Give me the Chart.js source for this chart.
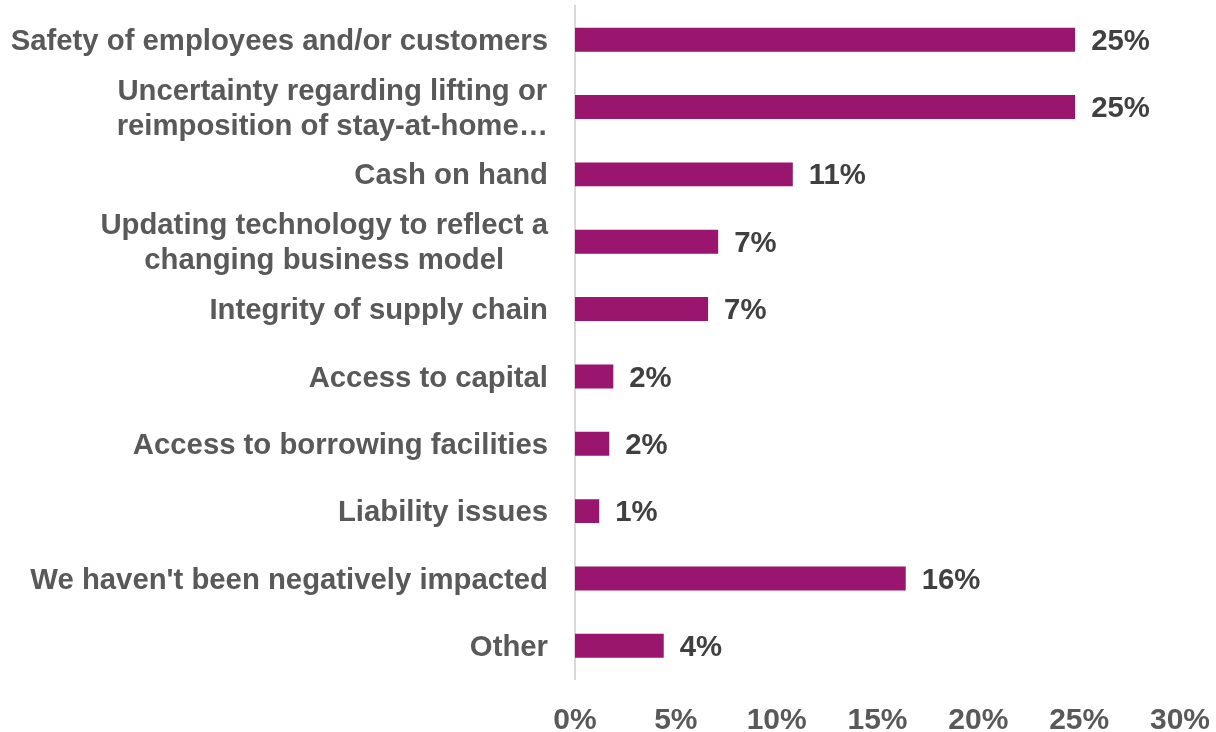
<!DOCTYPE html>
<html>
<head>
<meta charset="utf-8">
<script src="https://cdn.jsdelivr.net/npm/chart.js@4.4.1/dist/chart.umd.min.js"></script>
<style>
  html, body { margin: 0; padding: 0; background: #ffffff; }
  #wrap { width: 1216px; height: 732px; }
</style>
</head>
<body>
<div id="wrap"><canvas id="chart" width="1216" height="732"></canvas></div>
<script>
// Survey responses: biggest concerns about reopening
const categories = [
  ['Safety of employees and/or customers'],
  ['Uncertainty regarding lifting or', 'reimposition of stay-at-home\u2026'],
  ['Cash on hand'],
  ['Updating technology to reflect a', 'changing business model'],
  ['Integrity of supply chain'],
  ['Access to capital'],
  ['Access to borrowing facilities'],
  ['Liability issues'],
  ["We haven't been negatively impacted"],
  ['Other']
];
const shares = [24.8, 24.8, 10.8, 7.1, 6.6, 1.9, 1.7, 1.2, 16.4, 4.4];
const axisTicks = [0, 5, 10, 15, 20, 25, 30];

const BAR = '#99156E';
const LABEL_GREY = '#595959';
const VALUE_GREY = '#404040';
const FONT = '"Liberation Sans", Arial, sans-serif';

// Category labels: block right-aligned to the axis, lines centred within the block
const categoryLabels = {
  id: 'categoryLabels',
  afterDraw(chart) {
    const { ctx, scales: { y } } = chart;
    ctx.save();
    ctx.font = 'bold 29.3px ' + FONT;
    ctx.fillStyle = LABEL_GREY;
    ctx.textBaseline = 'middle';
    ctx.textAlign = 'center';
    const right = y.right - 27;
    const lh = 35;
    categories.forEach((lines, i) => {
      const cy = y.getPixelForTick(i) + 2;
      const w = Math.max(...lines.map(s => ctx.measureText(s).width));
      const cx = right - w / 2;
      const y0 = cy - (lines.length - 1) * lh / 2;
      lines.forEach((s, k) => ctx.fillText(s, cx, y0 + k * lh));
    });
    ctx.restore();
  }
};

// Value labels at the end of each bar
const valueLabels = {
  id: 'valueLabels',
  afterDatasetsDraw(chart) {
    const { ctx } = chart;
    const meta = chart.getDatasetMeta(0);
    ctx.save();
    ctx.font = 'bold 29.3px ' + FONT;
    ctx.fillStyle = VALUE_GREY;
    ctx.textBaseline = 'middle';
    ctx.textAlign = 'left';
    meta.data.forEach((bar, i) => {
      ctx.fillText(Math.round(shares[i]) + '%', bar.x + 16, bar.y + 2);
    });
    ctx.restore();
  }
};

new Chart(document.getElementById('chart'), {
  type: 'bar',
  data: {
    labels: categories,
    datasets: [{
      data: shares,
      backgroundColor: BAR,
      borderWidth: 0,
      categoryPercentage: 1,
      barPercentage: 0.355
    }]
  },
  options: {
    indexAxis: 'y',
    responsive: false,
    animation: false,
    layout: { padding: { top: 6, right: 36, left: 0, bottom: 0 } },
    plugins: { legend: { display: false }, tooltip: { enabled: false } },
    scales: {
      x: {
        min: axisTicks[0],
        max: axisTicks[axisTicks.length - 1],
        afterBuildTicks(scale) { scale.ticks = axisTicks.map(v => ({ value: v })); },
        grid: { display: false, drawTicks: false },
        border: { display: false },
        ticks: {
          padding: 23,
          color: LABEL_GREY,
          font: { family: FONT, size: 30, weight: 'bold' },
          callback: v => v + '%'
        },
        afterFit(scale) {
          scale.height = 52.5;
          scale.paddingLeft = 0;
          scale.paddingRight = 0;
        }
      },
      y: {
        grid: { display: false, drawTicks: false },
        border: { display: true, color: '#d9d9d9', width: 2 },
        ticks: { display: false },
        afterFit(scale) { scale.width = 575; }
      }
    }
  },
  plugins: [categoryLabels, valueLabels]
});
</script>
</body>
</html>
